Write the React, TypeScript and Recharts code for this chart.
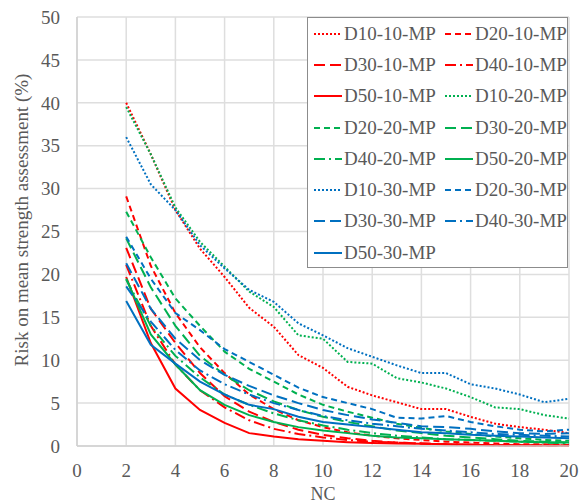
import React from "react";
import { LineChart, Line, XAxis, YAxis, CartesianGrid, Legend } from "recharts";

// number of cores (x values)
const nc = [2, 3, 4, 5, 6, 7, 8, 9, 10, 11, 12, 13, 14, 15, 16, 17, 18, 19, 20];

const d10_10 = [40, 34, 27.5, 23, 19.7, 16.1, 13.9, 10.6, 9.1, 6.9, 5.9, 5.1, 4.3, 4.3, 3.4, 2.6, 2.2, 1.9, 1.5];
const d20_10 = [29.1, 21, 15.5, 11.5, 8.5, 6, 4.3, 3, 2.2, 1.6, 1.2, 0.9, 0.7, 0.5, 0.4, 0.3, 0.2, 0.2, 0.1];
const d30_10 = [23.1, 16, 12, 8.5, 5.8, 4, 2.8, 1.9, 1.3, 0.9, 0.6, 0.4, 0.3, 0.2, 0.15, 0.1, 0.1, 0.05, 0.05];
const d40_10 = [21.1, 14, 9.5, 6.5, 4.5, 3, 2, 1.4, 1, 0.7, 0.5, 0.4, 0.3, 0.2, 0.15, 0.1, 0.1, 0.05, 0.05];
const d50_10 = [19.7, 12, 6.7, 4.2, 2.7, 1.5, 1.1, 0.8, 0.6, 0.45, 0.35, 0.3, 0.25, 0.2, 0.15, 0.1, 0.1, 0.05, 0.05];
const d10_20 = [39.5, 34, 27.8, 23.8, 20.9, 18, 16.2, 12.9, 12.5, 9.8, 9.6, 7.9, 7.4, 6.7, 5.7, 4.5, 4.3, 3.6, 3.2];
const d20_20 = [27.3, 22, 17.2, 14, 11, 9, 7.5, 6, 4.8, 4, 3.3, 2.6, 2.1, 1.7, 1.4, 1.1, 0.9, 0.7, 0.6];
const d30_20 = [24.2, 18.5, 14, 10.5, 8.3, 6.5, 5.2, 4.2, 3.4, 2.8, 2.3, 1.8, 1.5, 1.2, 1, 0.8, 0.6, 0.5, 0.4];
const d40_20 = [19.4, 14, 10.5, 8, 6, 4.8, 3.8, 3, 2.4, 1.9, 1.5, 1.2, 1, 0.8, 0.7, 0.6, 0.5, 0.4, 0.3];
const d50_20 = [19.5, 13, 9.5, 6.5, 4.8, 3.6, 2.8, 2.2, 1.8, 1.5, 1.2, 1, 0.9, 0.8, 0.7, 0.6, 0.5, 0.45, 0.4];
const d10_30 = [36, 30.5, 27.5, 23.4, 20.7, 18.2, 16.8, 14.3, 12.9, 11.4, 10.4, 9.4, 8.5, 8.5, 7.2, 6.7, 6, 5.1, 5.5];
const d20_30 = [24.4, 19.5, 15.5, 13.5, 11.3, 9.8, 8.3, 6.8, 5.7, 5, 4.3, 3.3, 3.2, 3.5, 2.8, 2.3, 1.9, 1.7, 1.9];
const d30_30 = [21.3, 16, 12.5, 10, 8.3, 7, 5.9, 5, 4.2, 3.6, 3.1, 2.7, 2.3, 2.2, 2, 1.7, 1.5, 1.4, 1.5];
const d40_30 = [18.6, 14.5, 11.2, 8.8, 7.2, 6, 5, 4.2, 3.5, 3, 2.6, 2.3, 2, 1.8, 1.6, 1.4, 1.3, 1.2, 1.1];
const d50_30 = [16.9, 11.8, 9.6, 7.5, 6, 4.8, 4.3, 3.4, 2.8, 2.5, 2.2, 1.9, 1.6, 1.5, 1.3, 1.2, 1.1, 1, 0.9];

const xTicks = [0, 2, 4, 6, 8, 10, 12, 14, 16, 18, 20];
const yTicks = [0, 5, 10, 15, 20, 25, 30, 35, 40, 45, 50];

const RED = "#ff0000";
const GREEN = "#00b050";
const BLUE = "#0070c0";

const dash: Record<string, string | undefined> = {
  D10: "2 2",
  D20: "6 4",
  D30: "11 5",
  D40: "11 4 2 4",
  D50: undefined,
};

const series = [
  { name: "D10-10-MP", values: d10_10, color: RED, d: "D10" },
  { name: "D20-10-MP", values: d20_10, color: RED, d: "D20" },
  { name: "D30-10-MP", values: d30_10, color: RED, d: "D30" },
  { name: "D40-10-MP", values: d40_10, color: RED, d: "D40" },
  { name: "D50-10-MP", values: d50_10, color: RED, d: "D50" },
  { name: "D10-20-MP", values: d10_20, color: GREEN, d: "D10" },
  { name: "D20-20-MP", values: d20_20, color: GREEN, d: "D20" },
  { name: "D30-20-MP", values: d30_20, color: GREEN, d: "D30" },
  { name: "D40-20-MP", values: d40_20, color: GREEN, d: "D40" },
  { name: "D50-20-MP", values: d50_20, color: GREEN, d: "D50" },
  { name: "D10-30-MP", values: d10_30, color: BLUE, d: "D10" },
  { name: "D20-30-MP", values: d20_30, color: BLUE, d: "D20" },
  { name: "D30-30-MP", values: d30_30, color: BLUE, d: "D30" },
  { name: "D40-30-MP", values: d40_30, color: BLUE, d: "D40" },
  { name: "D50-30-MP", values: d50_30, color: BLUE, d: "D50" },
];

const data = nc.map((x, i) => {
  const row: Record<string, number> = { nc: x };
  series.forEach((s) => (row[s.name] = s.values[i]));
  return row;
});

const FONT = "Times New Roman, Liberation Serif, DejaVu Serif, serif";
const TEXT = "#595959";

const LegendBox = () => (
  <div
    style={{
      width: 261,
      height: 251,
      border: "1px solid #8c8c8c",
      background: "#fff",
      boxSizing: "border-box",
      display: "grid",
      gridTemplateColumns: "131px 130px",
      gridAutoRows: "31.3px",
      fontFamily: FONT,
      fontSize: 19,
      color: TEXT,
    }}
  >
    {series.map((s) => (
      <div key={s.name} style={{ display: "flex", alignItems: "center" }}>
        <svg width={28} height={10} style={{ marginLeft: 6, marginRight: 2 }}>
          <line x1={0} y1={5} x2={28} y2={5} stroke={s.color} strokeWidth={2} strokeDasharray={dash[s.d]} />
        </svg>
        <span style={{ whiteSpace: "nowrap" }}>{s.name}</span>
      </div>
    ))}
  </div>
);

const YLabel = () => (
  <text
    x={21}
    y={220}
    transform="rotate(-90 21 220)"
    textAnchor="middle"
    dominantBaseline="central"
    fill={TEXT}
    fontSize={19}
    fontFamily={FONT}
  >
    Risk on mean strength assessment (%)
  </text>
);

export default function App() {
  return (
    <div style={{ position: "absolute", left: 0, top: 0, background: "#fff", fontFamily: FONT }}>
      <LineChart width={580} height={503} data={data} margin={{ top: 17, right: 11, bottom: 0, left: 0 }}>
        <CartesianGrid stroke="#dedede" strokeWidth={1.5} />
        <XAxis
          dataKey="nc"
          type="number"
          domain={[0, 20]}
          ticks={xTicks}
          height={57}
          tickSize={0}
          tickMargin={18}
          axisLine={{ stroke: "#d0d0d0", strokeWidth: 1.5 }}
          tick={{ fill: TEXT, fontSize: 19, fontFamily: FONT }}
          label={{ value: "NC", position: "insideBottom", offset: 3, fill: TEXT, fontSize: 18, fontFamily: FONT }}
        />
        <YAxis
          type="number"
          domain={[0, 50]}
          ticks={yTicks}
          width={77}
          tickSize={0}
          tickMargin={17}
          axisLine={{ stroke: "#d0d0d0", strokeWidth: 1.5 }}
          tick={{ fill: TEXT, fontSize: 19, fontFamily: FONT }}
          label={{ content: () => <YLabel /> }}
        />
        <Legend
          layout="vertical"
          align="center"
          verticalAlign="middle"
          content={() => <LegendBox />}
          wrapperStyle={{ left: 307, top: 17, width: 261, height: 251 }}
        />
        {series.map((s) => (
          <Line
            key={s.name}
            dataKey={s.name}
            stroke={s.color}
            strokeWidth={2}
            strokeDasharray={dash[s.d]}
            dot={false}
            activeDot={false}
            isAnimationActive={false}
          />
        ))}
      </LineChart>
    </div>
  );
}
